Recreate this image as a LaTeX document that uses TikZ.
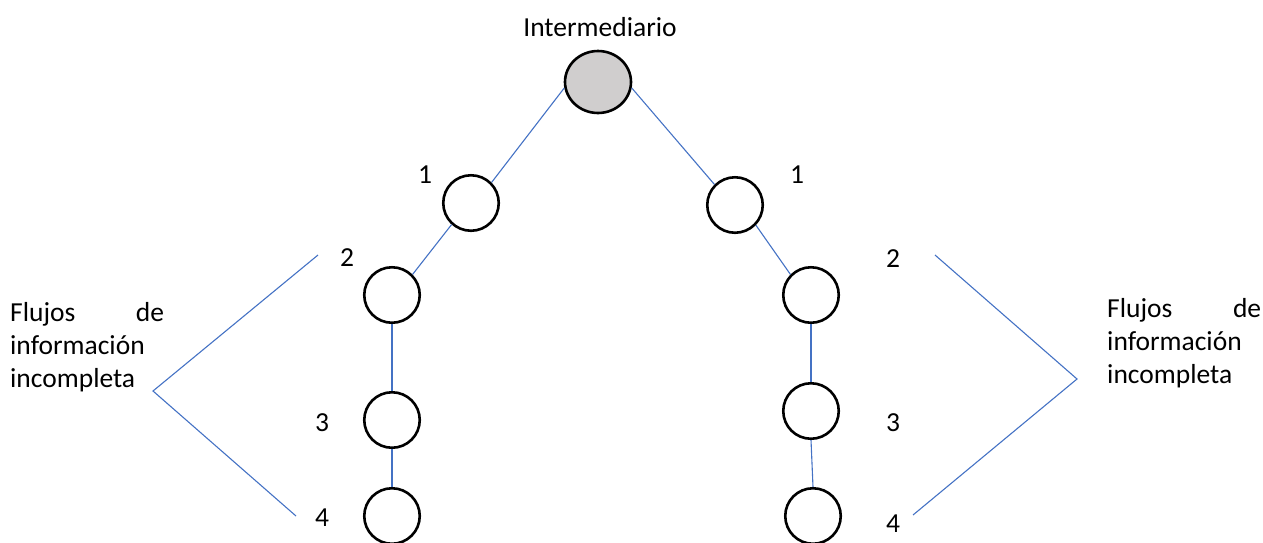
\documentclass[tikz,border=0pt]{standalone}
\usepackage{fontspec}
\setmainfont{Carlito}
\usetikzlibrary{shapes.geometric}
\definecolor{linkblue}{RGB}{68,114,196}
\definecolor{hubgray}{RGB}{208,206,206}
\tikzset{
  agent/.style={circle, draw=black, line width=2.6pt, minimum size=55.5pt, inner sep=0pt},
  hub/.style={ellipse, draw=black, line width=2.6pt, fill=hubgray, minimum width=66pt, minimum height=62pt, inner sep=0pt},
  link/.style={draw=linkblue, line width=1.1pt},
  lbl/.style={inner sep=0pt, font=\fontsize{27.5}{33}\selectfont},
  note/.style={inner sep=0pt, font=\fontsize{27.5}{33}\selectfont, text width=154pt, align=left, anchor=north west}
}
\begin{document}
\begin{tikzpicture}[x=1pt, y=-1pt]
\useasboundingbox (0,0) rectangle (1263,542);

% central intermediary and the two chains
\node[hub] (top) at (598,82) {};
\node[agent] (l1) at (471,203) {};
\node[agent] (l2) at (392,295) {};
\node[agent] (l3) at (392,420) {};
\node[agent] (l4) at (392,516) {};
\node[agent] (r1) at (735,205) {};
\node[agent] (r2) at (811,295) {};
\node[agent] (r3) at (811,411) {};
\node[agent] (r4) at (813,516) {};

% labels
\node[lbl] (title) at (600,27) {Intermediario};
\node[lbl] (nl1) at (425,175) {1};
\node[lbl] (nr1) at (797,175) {1};
\node[lbl] (nl2) at (347,258) {2};
\node[lbl] (nr2) at (893,259) {2};
\node[lbl] (nl3) at (322,423) {3};
\node[lbl] (nr3) at (893,423) {3};
\node[lbl] (nl4) at (322,518) {4};
\node[lbl] (nr4) at (893,524) {4};

\node[note] (noteL) at (10,302) {Flujos\hfill de\\información\\incompleta};
\node[note] (noteR) at (1107,298) {Flujos\hfill de\\información\\incompleta};

% chain links
\draw[link] (top.190) -- (l1.45);
\draw[link] (l1.228) -- (l2.45);
\draw[link] (l2.south) -- (l3.north);
\draw[link] (l3.south) -- (l4.north);
\draw[link] (top.350) -- (r1.135);
\draw[link] (r1.316) -- (r2.135);
\draw[link] (r2.south) -- (r3.north);
\draw[link] (r3.south) -- (r4.north);

% brackets grouping links 2 to 4
\coordinate (bLa) at (318,255);
\coordinate (bLv) at (153,391);
\coordinate (bLb) at (296,516);
\coordinate (bRa) at (935,255);
\coordinate (bRv) at (1077,379);
\coordinate (bRb) at (913,515);
\draw[link] (bLa) -- (bLv) -- (bLb);
\draw[link] (bRa) -- (bRv) -- (bRb);
\end{tikzpicture}
\end{document}
